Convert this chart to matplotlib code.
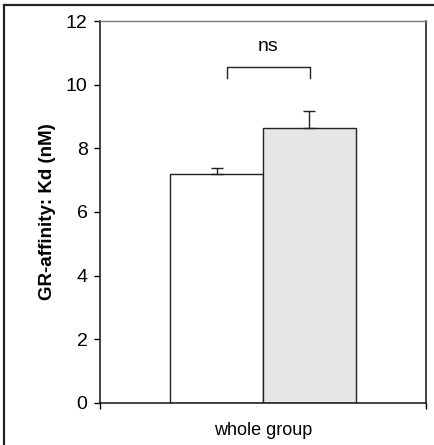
import matplotlib
matplotlib.use("Agg")
import matplotlib.pyplot as plt
from matplotlib.patches import Rectangle

# data
group_label = "whole group"
bar_values = [7.19, 8.64]
bar_errors = [0.19, 0.53]
bar_colors = ["#ffffff", "#e6e6e6"]
sig_label = "ns"
y_ticks = [0, 2, 4, 6, 8, 10, 12]

plt.rcParams["font.family"] = ["Liberation Sans", "DejaVu Sans"]

fig = plt.figure(figsize=(4.35, 4.45), dpi=100)
ax = fig.add_axes([0.2299, 0.0944, 0.7494, 0.8584])

# outer frame like the original figure panel (right/bottom run off the edge)
fig.patches.append(Rectangle((0.010, -0.05), 1.05, 1.039, transform=fig.transFigure,
                             fill=False, edgecolor="#222222", linewidth=1.6))

width = 0.284
centers = [0.5 - width / 2, 0.5 + width / 2]
ax.bar(centers, bar_values, width=width, color=bar_colors,
       edgecolor="#222222", linewidth=1.0, zorder=2)
ax.errorbar(centers, bar_values, yerr=[[0, 0], bar_errors], fmt="none",
            ecolor="#222222", elinewidth=1.0, capsize=4, capthick=1.0, zorder=3)

# significance bracket
bx0, bx1, by_top, by_bot = 0.39, 0.644, 10.55, 10.2
ax.plot([bx0, bx0, bx1, bx1], [by_bot, by_top, by_top, by_bot],
        color="#222222", linewidth=1.0)
ax.text((bx0 + bx1) / 2, 11.2, sig_label, ha="center", va="center", fontsize=14)

ax.set_xlim(0, 1)
ax.set_ylim(0, 12)
ax.set_yticks(y_ticks)
ax.set_yticklabels([str(t) for t in y_ticks], fontsize=14)
ax.tick_params(axis="y", direction="out", length=4, width=1, pad=5)
ax.set_xticks([0, 1])
ax.set_xticklabels(["", ""])
ax.tick_params(axis="x", direction="out", length=4, width=1)
ax.text(0.5, -0.072, group_label, transform=ax.transAxes, ha="center", va="center",
        fontsize=13)

ax.set_ylabel("GR-affinity: Kd (nM)", fontsize=13.5, fontweight="bold", labelpad=7)

for s in ["left", "right", "bottom"]:
    ax.spines[s].set_color("#111111")
    ax.spines[s].set_linewidth(1.1)
ax.spines["top"].set_color("#777777")
ax.spines["top"].set_linewidth(1.0)

fig.savefig("out.png", dpi=100)
